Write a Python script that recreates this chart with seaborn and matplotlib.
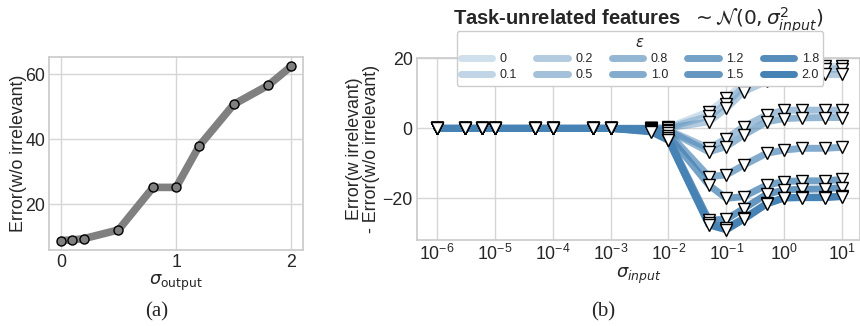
import numpy as np
import pandas as pd
import matplotlib
matplotlib.use("Agg")
import matplotlib.pyplot as plt
import seaborn as sns
from matplotlib.ticker import LogLocator, NullLocator, FixedLocator

# ---------------- data ----------------
# panel (a)
sigma_output = [0, 0.1, 0.2, 0.5, 0.8, 1.0, 1.2, 1.5, 1.8, 2.0]
error_wo_irrelevant = [8.8, 9.0, 9.4, 12.1, 25.2, 25.2, 38.0, 50.8, 56.7, 62.6]

# panel (b)
sigma_input = [1e-6, 3e-6, 6e-6, 1e-5, 5e-5, 1e-4, 5e-4, 1e-3, 5e-3, 1e-2,
               5e-2, 0.1, 0.2, 0.5, 1, 2, 5, 10]
eps_labels = ["0", "0.1", "0.2", "0.5", "0.8", "1.0", "1.2", "1.5", "1.8", "2.0"]
diff_eps_00 = [0, 0, 0, 0, 0, 0, 0, 0, 0.0, 0.3, 4.8, 8.6, 13.0, 16.5, 17.5, 17.8, 17.8, 17.8]
diff_eps_01 = [0, 0, 0, 0, 0, 0, 0, 0, 0.0, 0.2, 3.5, 7.1, 12.0, 15.5, 17.0, 17.2, 16.9, 17.0]
diff_eps_02 = [0, 0, 0, 0, 0, 0, 0, 0, 0.0, 0.1, 1.9, 5.7, 10.5, 13.5, 15.0, 15.3, 15.4, 15.4]
diff_eps_05 = [0, 0, 0, 0, 0, 0, 0, 0, 0.0, -0.5, -5.7, -2.9, 0.5, 3.8, 5.2, 5.2, 5.2, 5.2]
diff_eps_08 = [0, 0, 0, 0, 0, 0, 0, 0, -0.1, -0.7, -6.7, -5.2, -1.9, 1.9, 2.8, 3.0, 3.1, 3.1]
diff_eps_10 = [0, 0, 0, 0, 0, 0, 0, 0, -0.2, -1.3, -13.8, -13.3, -10.5, -7.1, -6.2, -5.7, -5.7, -5.4]
diff_eps_12 = [0, 0, 0, 0, 0, 0, 0, 0, -0.4, -2.1, -16.2, -20.0, -19.5, -16.2, -15.2, -15.0, -15.0, -14.6]
diff_eps_15 = [0, 0, 0, 0, 0, 0, 0, 0, -0.6, -2.8, -26.2, -26.0, -22.9, -18.8, -17.6, -17.4, -17.3, -16.9]
diff_eps_18 = [0, 0, 0, 0, 0, 0, 0, 0, -0.8, -3.2, -27.0, -28.5, -25.7, -21.4, -19.8, -19.7, -19.6, -19.4]
diff_eps_20 = [0, 0, 0, 0, 0, 0, 0, 0, -1.0, -3.4, -27.6, -29.0, -26.0, -21.6, -19.9, -19.8, -19.8, -19.5]
diff_series = [diff_eps_00, diff_eps_01, diff_eps_02, diff_eps_05, diff_eps_08,
               diff_eps_10, diff_eps_12, diff_eps_15, diff_eps_18, diff_eps_20]

# ---------------- style ----------------
sns.set_theme(style="whitegrid")
plt.rcParams["font.family"] = ["Liberation Sans", "DejaVu Sans"]
plt.rcParams["mathtext.fontset"] = "dejavusans"
plt.rcParams["axes.edgecolor"] = "#cccccc"
plt.rcParams["grid.color"] = "#d6d6d6"

W, H = 860, 326
fig = plt.figure(figsize=(W / 100, H / 100), dpi=100)

def box(x0, y0, x1, y1):
    return [x0 / W, 1 - y1 / H, (x1 - x0) / W, (y1 - y0) / H]

TICK = 12.8

# ---------------- panel (a) ----------------
ax1 = fig.add_axes(box(49.3, 57.3, 303, 250))
df_a = pd.DataFrame({"sigma": sigma_output, "err": error_wo_irrelevant})
sns.lineplot(data=df_a, x="sigma", y="err", ax=ax1, color="#808080", lw=5.5,
             marker="o", markersize=6.5, markerfacecolor="#808080",
             markeredgecolor="black", markeredgewidth=1.0)
ax1.set_xlim(-0.1, 2.1)
ax1.set_ylim(5.9, 65.3)
ax1.xaxis.set_major_locator(FixedLocator([0, 1, 2]))
ax1.yaxis.set_major_locator(FixedLocator([20, 40, 60]))
ax1.set_xlabel(r"$\sigma_{\mathrm{output}}$", fontsize=TICK, labelpad=1)
ax1.set_ylabel("Error(w/o irrelevant)", fontsize=TICK, labelpad=-1)
ax1.tick_params(labelsize=TICK, length=0, pad=3)
for s in ax1.spines.values():
    s.set_color("#cccccc")

# ---------------- panel (b) ----------------
ax2 = fig.add_axes(box(416.7, 57.7, 860, 240))
n = len(eps_labels)
for i, (lab, vals) in enumerate(zip(eps_labels, diff_series)):
    a = 0.25 + 0.75 * i / (n - 1)
    sns.lineplot(x=sigma_input, y=vals, ax=ax2, color="steelblue", alpha=a,
                 lw=5, label=lab, solid_capstyle="round", solid_joinstyle="round")
for vals in diff_series:
    ax2.plot(sigma_input, vals, ls="none", marker="v", markersize=8,
             markerfacecolor="white", markeredgecolor="black",
             markeredgewidth=1.0, zorder=5)
ax2.set_xscale("log")
ax2.set_xlim(10 ** -6.35, 10 ** 1.31)
ax2.set_ylim(-31.9, 20.2)
ax2.xaxis.set_major_locator(LogLocator(base=10, numticks=20))
ax2.xaxis.set_minor_locator(NullLocator())
ax2.yaxis.set_major_locator(FixedLocator([-20, 0, 20]))
ax2.tick_params(labelsize=TICK, length=0, pad=3)
ax2.set_xlabel(r"$\sigma_{input}$", fontsize=TICK, labelpad=1)
ax2.set_ylabel("Error(w irrelevant)\n- Error(w/o irrelevant)", fontsize=TICK,
               labelpad=2, linespacing=1.0)
ax2.set_title(r"Task-unrelated features  $\sim\mathcal{N}(0,\sigma^2_{input})$",
              fontsize=14.5, fontweight="bold", pad=23)
for s in ax2.spines.values():
    s.set_color("#cccccc")

leg = ax2.legend(ncol=5, title=r"$\varepsilon$", fontsize=9, title_fontsize=10.5,
                 loc="upper center", bbox_to_anchor=(640 / W, 1 - 25 / H),
                 bbox_transform=fig.transFigure, frameon=True, fancybox=True,
                 handlelength=2.5, handletextpad=0.6, columnspacing=1.55,
                 labelspacing=0.3, borderpad=0.35, framealpha=1.0)
leg.get_frame().set_edgecolor("#cccccc")
leg.set_zorder(10)

# captions
fig.text(157 / W, 1 - 312 / H, "(a)", family="Liberation Serif", fontsize=15,
         ha="center", va="center")
fig.text(603 / W, 1 - 312 / H, "(b)", family="Liberation Serif", fontsize=15,
         ha="center", va="center")

fig.savefig("out.png", dpi=100)
